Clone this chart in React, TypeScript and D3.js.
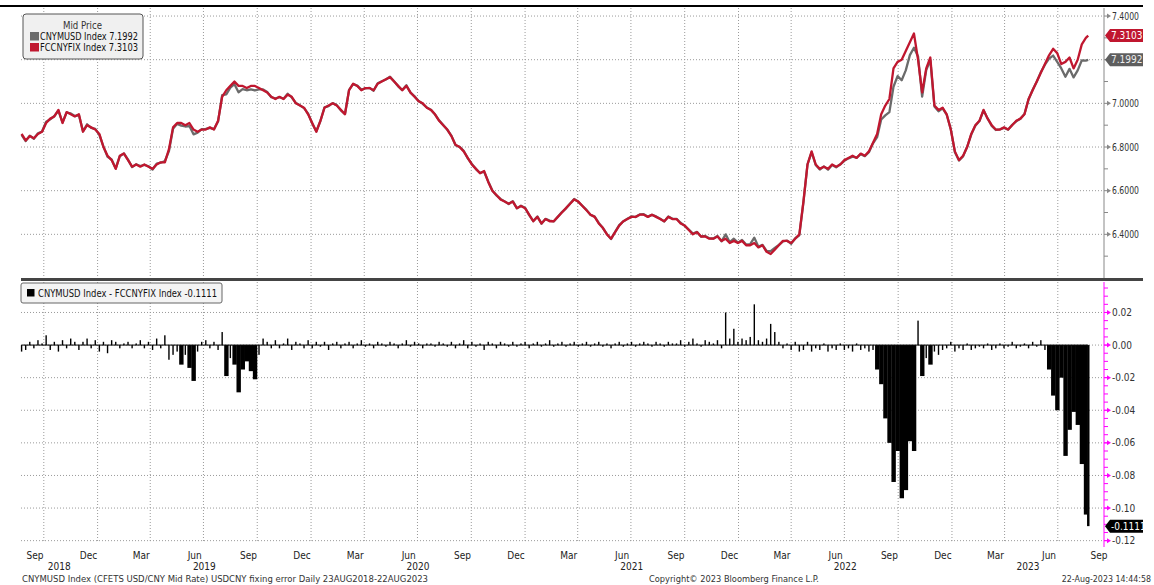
import * as d3 from "d3";

const W = 1154;
const H = 585;

// weekly observations (Fridays) from 24-Aug-2018, last print 22-Aug-2023
const START = new Date(2018, 7, 24);
const LAST_DATE = new Date(2023, 7, 22);

// FCCNYFIX Index
const FIX = [
  6.86, 6.83, 6.85, 6.84, 6.86, 6.87, 6.91, 6.93, 6.94, 6.97,
  6.91, 6.96, 6.95, 6.94, 6.95, 6.87, 6.90, 6.89, 6.88, 6.86,
  6.80, 6.76, 6.74, 6.70, 6.76, 6.77, 6.74, 6.71, 6.72, 6.71,
  6.72, 6.71, 6.70, 6.72, 6.73, 6.73, 6.79, 6.89, 6.91, 6.91,
  6.90, 6.91, 6.88, 6.87, 6.88, 6.88, 6.89, 6.88, 6.92, 7.03,
  7.06, 7.08, 7.10, 7.08, 7.08, 7.07, 7.08, 7.08, 7.07, 7.06,
  7.05, 7.03, 7.02, 7.03, 7.02, 7.04, 7.03, 7.00, 6.99, 6.98,
  6.95, 6.91, 6.87, 6.92, 6.98, 6.99, 7.00, 6.99, 6.97, 6.95,
  7.06, 7.09, 7.08, 7.06, 7.07, 7.07, 7.06, 7.09, 7.10, 7.11,
  7.12, 7.10, 7.08, 7.06, 7.08, 7.05, 7.03, 7.01, 7.00, 6.98,
  6.97, 6.95, 6.92, 6.90, 6.88, 6.85, 6.81, 6.80, 6.78, 6.75,
  6.72, 6.70, 6.68, 6.69, 6.64, 6.60, 6.58, 6.56, 6.55, 6.54,
  6.55, 6.52, 6.53, 6.52, 6.49, 6.46, 6.48, 6.45, 6.47, 6.46,
  6.46, 6.48, 6.50, 6.52, 6.54, 6.56, 6.55, 6.53, 6.51, 6.49,
  6.48, 6.45, 6.43, 6.40, 6.38, 6.41, 6.44, 6.46, 6.47, 6.48,
  6.48, 6.49, 6.49, 6.48, 6.49, 6.48, 6.47, 6.46, 6.48, 6.47,
  6.47, 6.45, 6.44, 6.42, 6.40, 6.41, 6.39, 6.39, 6.38, 6.38,
  6.39, 6.37, 6.38, 6.36, 6.37, 6.36, 6.37, 6.35, 6.35, 6.36,
  6.34, 6.35, 6.32, 6.31, 6.33, 6.35, 6.37, 6.37, 6.36, 6.38,
  6.40, 6.55, 6.72, 6.78, 6.72, 6.70, 6.71, 6.70, 6.72, 6.71,
  6.72, 6.74, 6.75, 6.76, 6.75, 6.77, 6.76, 6.78, 6.82, 6.86,
  6.95, 6.99, 7.02, 7.16, 7.19, 7.20, 7.24, 7.28, 7.32, 7.20,
  7.05, 7.16, 7.21, 6.99, 6.97, 6.98, 6.95, 6.88, 6.78, 6.74,
  6.76, 6.80, 6.86, 6.90, 6.92, 6.97, 6.93, 6.90, 6.88, 6.88,
  6.89, 6.88, 6.90, 6.92, 6.93, 6.95, 7.02, 7.06, 7.10, 7.14,
  7.18, 7.22, 7.25, 7.23, 7.18, 7.19, 7.21, 7.16, 7.20, 7.27,
  7.30, 7.3103,
];

// CNYMUSD Index - FCCNYFIX Index
const DIFF = [
  -0.004, -0.003, 0.002, -0.002, 0.003, 0.001, 0.006, -0.003, 0.002, -0.004,
  0.003, -0.002, 0.004, 0.002, -0.003, 0.002, 0.004, -0.002, 0.003, -0.004,
  0.002, -0.005, 0.003, 0.002, -0.002, 0.001, 0.002, -0.002, 0.001, 0.003,
  -0.002, 0.002, -0.003, 0.004, -0.002, 0.006, -0.009, -0.006, -0.004, -0.012,
  -0.006, -0.014, -0.022, -0.004, 0.002, 0.003, -0.002, 0.002, -0.003, 0.008,
  -0.019, -0.008, -0.012, -0.029, -0.015, -0.010, -0.016, -0.021, -0.006, 0.004,
  0.002, -0.002, 0.003, -0.002, 0.001, 0.004, -0.003, 0.002, 0.001, -0.002,
  0.003, -0.002, 0.002, -0.001, 0.002, -0.003, 0.001, 0.002, -0.002, 0.001,
  0.002, -0.002, 0.001, 0.003, -0.001, 0.001, -0.002, 0.002, 0.001, -0.001,
  0.002, 0.001, -0.002, 0.001, 0.003, -0.001, 0.002, 0.001, -0.002, 0.001,
  0.001, -0.001, 0.002, 0.001, -0.001, 0.002, -0.002, 0.001, 0.003, -0.002,
  0.002, -0.001, 0.001, -0.003, 0.002, 0.001, -0.002, 0.002, 0.001, -0.001,
  0.002, -0.001, 0.001, 0.002, -0.002, 0.001, 0.002, -0.001, 0.001, 0.003,
  -0.001, 0.001, 0.002, -0.001, 0.001, 0.002, -0.001, 0.001, 0.002, -0.001,
  0.001, 0.002, -0.001, 0.001, -0.002, 0.001, 0.002, -0.001, 0.001, 0.002,
  -0.001, 0.001, 0.002, 0.001, -0.001, 0.002, 0.001, -0.001, 0.002, 0.001,
  0.001, 0.003, -0.001, 0.002, 0.004, 0.001, -0.001, 0.003, 0.002, 0.001,
  0.003, -0.002, 0.020, 0.004, 0.010, 0.002, 0.004, 0.003, 0.005, 0.025,
  0.003, 0.002, 0.004, 0.013, 0.008, 0.002, -0.002, 0.001, -0.003, 0.002,
  -0.004, -0.003, 0.002, -0.004, -0.002, -0.003, 0.001, -0.004, -0.002, -0.003,
  0.001, -0.003, -0.002, -0.004, 0.001, -0.003, -0.002, -0.004, -0.003, -0.015,
  -0.024, -0.045, -0.060, -0.084, -0.065, -0.094, -0.089, -0.059, -0.065, 0.015,
  -0.019, -0.008, -0.012, -0.004, -0.006, -0.003, -0.002, 0.002, -0.004, -0.002,
  -0.003, 0.001, -0.003, -0.002, -0.001, -0.002, 0.001, -0.003, -0.002, 0.001,
  -0.002, -0.001, 0.002, -0.002, -0.001, 0.001, -0.002, 0.002, -0.001, 0.003,
  -0.003, -0.015, -0.031, -0.040, -0.020, -0.068, -0.052, -0.041, -0.049, -0.073,
  -0.104, -0.1111,
];

const TOP_TICKS = [6.4, 6.6, 6.8, 7.0, 7.2, 7.4];
const TOP_MINOR = [6.3, 6.5, 6.7, 6.9, 7.1, 7.3];
const BOT_TICKS = [0.02, 0, -0.02, -0.04, -0.06, -0.08, -0.1, -0.12];
const LABEL_MONTHS = ["Mar", "Jun", "Sep", "Dec"];

const FONT = "'DejaVu Sans Condensed', 'Liberation Sans', Arial, sans-serif";
const RED = "#c0172f";
const GREY = "#6b6b6b";
const MAGENTA = "#ff00ff";

const L = 21, R = 1104;
const TOP_Y0 = 8, TOP_Y1 = 278;
const BOT_Y0 = 282, BOT_Y1 = 547;

export default function App() {
  const dates = FIX.map((_, i) => (i < FIX.length - 1 ? d3.timeDay.offset(START, 7 * i) : LAST_DATE));
  const mid = FIX.map((v, i) => v + DIFF[i]);
  const axisStart = new Date(2018, 7, 23);
  const axisEnd = new Date(2023, 8, 18);

  const x = d3.scaleTime().domain([axisStart, axisEnd]).range([L, R]);
  const yTop = d3.scaleLinear().domain([6.2, 7.4368]).range([TOP_Y1, TOP_Y0]);
  const yBot = d3.scaleLinear().domain([-0.1239, 0.0387]).range([BOT_Y1, BOT_Y0]);

  const line = d3.line<number>().x((_, i) => x(dates[i])).y(v => yTop(v));
  const quarters = d3.timeMonth.every(3)!.range(axisStart, axisEnd);
  const months = d3.timeMonth.range(d3.timeMonth.floor(axisStart), axisEnd)
    .filter(m => LABEL_MONTHS.includes(d3.timeFormat("%b")(m)));
  const years = d3.timeYear.range(d3.timeYear.floor(axisStart), axisEnd);
  const span = (a: Date, b: Date) => {
    const s = a < axisStart ? axisStart : a;
    const e = b > axisEnd ? axisEnd : b;
    return (x(s) + x(e)) / 2;
  };

  const botMinor = d3.range(-0.12, 0.036, 0.005);
  const fmt4 = d3.format(".4f");
  const fmt2 = (v: number) => (Math.abs(v) < 1e-9 ? "0.00" : d3.format(".2f")(v).replace("−", "-"));

  // wide bars inside the fixing-gap blocks, thin spikes elsewhere
  const bars = DIFF.map((v, i) => {
    const xc = x(dates[i]);
    const x0 = i === 0 ? xc - 2 : (x(dates[i - 1]) + xc) / 2;
    const x1 = i === DIFF.length - 1 ? xc + 1 : (xc + x(dates[i + 1])) / 2;
    const wide = v <= -0.01;
    return {
      x0: wide ? x0 : xc - 0.7,
      x1: wide ? x1 + 0.3 : xc + 0.7,
      y0: yBot(0),
      y1: yBot(v),
    };
  });

  const arrow = (y: number, color: string) => (
    <g key={y}>
      <line x1={R} x2={R + 4} y1={y} y2={y} stroke={color} strokeWidth={1} />
      <path d={`M${R + 3},${y - 2.5}L${R + 7},${y}L${R + 3},${y + 2.5}Z`} fill={color} />
    </g>
  );
  const tag = (y: number, fill: string, text: string, color: string) => (
    <g>
      <path d={`M${R + 1},${y}L${R + 6},${y - 6.5}L1143,${y - 6.5}L1143,${y + 6.5}L${R + 6},${y + 6.5}Z`} fill={fill} />
      <text x={1111} y={y + 3.5} fill={color} fontSize={10}>{text}</text>
    </g>
  );

  const last = FIX.length - 1;

  return (
    <svg width={W} height={H} style={{ position: "absolute", left: 0, top: 0, background: "#fff" }} fontFamily={FONT}>
      <rect width={W} height={H} fill="#fff" />

      {/* grids */}
      <g stroke="#9a9a9a" strokeWidth={1} strokeDasharray="1,2">
        {quarters.map(q => (
          <g key={+q}>
            <line x1={x(q)} x2={x(q)} y1={TOP_Y0} y2={TOP_Y1} />
            <line x1={x(q)} x2={x(q)} y1={BOT_Y0} y2={BOT_Y1 - 5} />
          </g>
        ))}
        {TOP_TICKS.map(t => <line key={t} x1={L} x2={R} y1={yTop(t)} y2={yTop(t)} />)}
        {BOT_TICKS.map(t => <line key={t} x1={L} x2={R} y1={yBot(t)} y2={yBot(t)} />)}
      </g>

      {/* frame lines */}
      <rect x={0} y={5} width={1143} height={2} fill="#000" />
      <rect x={L} y={278} width={1143 - L} height={3} fill="#444" />
      <line x1={R} x2={R} y1={TOP_Y0} y2={TOP_Y1} stroke="#888" />
      <line x1={R} x2={R} y1={BOT_Y0} y2={BOT_Y1} stroke={MAGENTA} />

      {/* top panel */}
      <path d={line(mid)!} fill="none" stroke={GREY} strokeWidth={2.3} strokeLinejoin="round" />
      <path d={line(FIX)!} fill="none" stroke={RED} strokeWidth={2.3} strokeLinejoin="round" />

      {TOP_MINOR.map(t => <line key={t} x1={R} x2={R + 4} y1={yTop(t)} y2={yTop(t)} stroke="#888" />)}
      {TOP_TICKS.map(t => arrow(yTop(t), "#888"))}
      {TOP_TICKS.map(t => (
        <text key={t} x={1112} y={yTop(t) + 3.5} fontSize={10} textLength={27} lengthAdjust="spacingAndGlyphs" fill="#333">{fmt4(t)}</text>
      ))}
      {tag(yTop(FIX[last]), RED, fmt4(FIX[last]), "#fff")}
      {tag(yTop(mid[last]), "#5e5e5e", fmt4(mid[last]), "#eee")}

      <rect x={23} y={14} width={120} height={45} rx={3} fill="#f0f0f0" stroke="#555" />
      <text x={63} y={29} fontSize={10} textLength={39} lengthAdjust="spacingAndGlyphs" fill="#333">Mid Price</text>
      <rect x={30} y={32} width={9} height={8.5} fill={GREY} />
      <text x={40} y={40} fontSize={10} textLength={98} lengthAdjust="spacingAndGlyphs" fill="#111">CNYMUSD Index 7.1992</text>
      <rect x={30} y={43} width={9} height={8.5} fill={RED} />
      <text x={40} y={51} fontSize={10} textLength={98} lengthAdjust="spacingAndGlyphs" fill="#111">FCCNYFIX Index 7.3103</text>

      {/* bottom panel */}
      <line x1={x(dates[0])} x2={x(dates[last])} y1={yBot(0)} y2={yBot(0)} stroke="#000" />
      {bars.map((b, i) => (
        <rect key={i} x={b.x0} width={b.x1 - b.x0} y={Math.min(b.y0, b.y1)} height={Math.max(1, Math.abs(b.y1 - b.y0))} fill="#000" />
      ))}

      {botMinor.map(t => <line key={t} x1={R} x2={R + 4} y1={yBot(t)} y2={yBot(t)} stroke={MAGENTA} />)}
      {BOT_TICKS.map(t => arrow(yBot(t), MAGENTA))}
      {BOT_TICKS.map(t => (
        <text key={t} x={1112} y={yBot(t) + 3.5} fontSize={10} fill="#333">{fmt2(t)}</text>
      ))}
      {tag(yBot(DIFF[last]), "#000", "-0.1111", "#fff")}

      <rect x={21} y={283} width={201} height={20} rx={2} fill="#f4f4f4" stroke="#666" />
      <rect x={27} y={289} width={7.5} height={7.5} fill="#000" />
      <text x={38} y={296.5} fontSize={10} textLength={179} lengthAdjust="spacingAndGlyphs" fill="#111">CNYMUSD Index - FCCNYFIX Index -0.1111</text>

      {/* x axis */}
      {months.map(m => (
        <text key={+m} x={span(m, d3.timeMonth.offset(m, 1))} y={558.5} textAnchor="middle" fontSize={10} fill="#222">
          {d3.timeFormat("%b")(m)}
        </text>
      ))}
      {years.map(yv => (
        <text key={+yv} x={span(yv, d3.timeYear.offset(yv, 1))} y={569.5} textAnchor="middle" fontSize={10} fill="#222">
          {d3.timeFormat("%Y")(yv)}
        </text>
      ))}

      <text x={22} y={582} fontSize={9.5} textLength={406} lengthAdjust="spacingAndGlyphs" fill="#333">CNYMUSD Index (CFETS USD/CNY Mid Rate) USDCNY fixing error  Daily 23AUG2018-22AUG2023</text>
      <text x={649} y={582} fontSize={9.5} textLength={170} lengthAdjust="spacingAndGlyphs" fill="#333">Copyright© 2023 Bloomberg Finance L.P.</text>
      <text x={1151} y={582} textAnchor="end" fontSize={8.8} fill="#333">22-Aug-2023 14:44:58</text>
    </svg>
  );
}
